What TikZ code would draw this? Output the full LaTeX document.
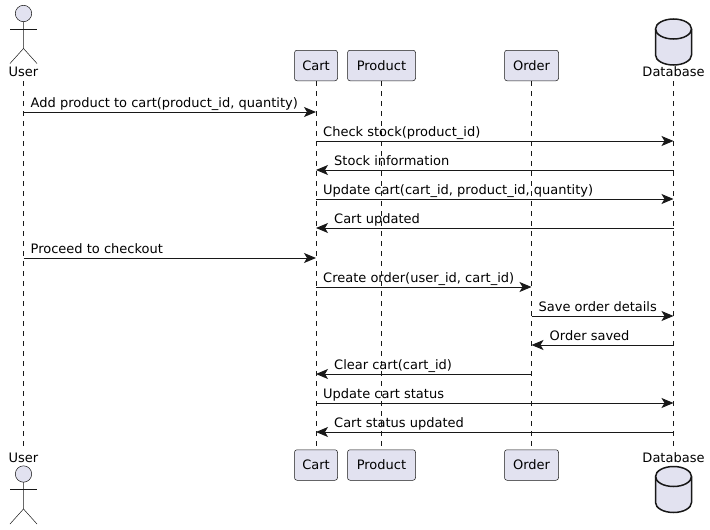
\documentclass[tikz,border=0pt]{standalone}
\usepackage{fontspec}
\setmainfont{DejaVu Sans}
\usetikzlibrary{arrows.meta}
\definecolor{partfill}{HTML}{E2E2F0}
\definecolor{partline}{HTML}{181818}
\tikzset{>={Stealth[length=12pt,width=10pt,inset=3pt]}}
\tikzset{
  part/.style = {draw=partline,fill=partfill,line width=0.5pt,rounded corners=2.5pt,
    minimum height=30.5pt,inner sep=0pt,font=\fontsize{13}{15}\selectfont},
  lbl/.style = {inner sep=0pt,minimum height=18pt,font=\fontsize{13}{15}\selectfont},
  msglbl/.style = {inner sep=0pt,anchor=base west,font=\fontsize{13}{15}\selectfont},
  lifeline/.style = {draw=partline,line width=0.5pt,dash pattern=on 5pt off 5pt},
  msg/.style = {draw=partline,line width=1pt,->},
  actorpic/.pic = {
    \draw[partline,line width=0.5pt,fill=partfill] (0,0) circle[radius=8.2pt];
    \draw[partline,line width=0.5pt] (0,8.2) -- ++(0,26.8) -- ++(-13.5,15);
    \draw[partline,line width=0.5pt] (0,35) -- ++(13.5,15);
    \draw[partline,line width=0.5pt] (-13.5,15.5) -- ++(27,0);
  },
  dbpic/.pic = {
    \draw[partline,line width=1.5pt,fill=partfill] (-18,0) .. controls (-18,-5.5) and (-10,-10) .. (0,-10)
      .. controls (10,-10) and (18,-5.5) .. (18,0) -- ++(0,26)
      .. controls (18,31.5) and (10,36) .. (0,36) .. controls (-10,36) and (-18,31.5) .. (-18,26) -- cycle;
    \draw[partline,line width=1.5pt] (-18,0) .. controls (-18,5.5) and (-10,10) .. (0,10)
      .. controls (10,10) and (18,5.5) .. (18,0);
  }
}

\begin{document}
\begin{tikzpicture}[x=1pt,y=-1pt]
  \useasboundingbox (0,0) rectangle (710,530);
  %
  \node[lbl] (usertop) at (23.5,72) {User};
  \node[part,minimum width=43pt] (carttop) at (316,65.5) {Cart};
  \node[part,minimum width=68pt] (producttop) at (381.5,65.5) {Product};
  \node[part,minimum width=54pt] (ordertop) at (531.5,65.5) {Order};
  \node[lbl] (dbtop) at (673.5,72) {Database};
  %
  \node[lbl] (userbot) at (23.5,458) {User};
  \node[part,minimum width=43pt] (cartbot) at (316,465) {Cart};
  \node[part,minimum width=68pt] (productbot) at (381.5,465) {Product};
  \node[part,minimum width=54pt] (orderbot) at (531.5,465) {Order};
  \node[lbl] (dbbot) at (673.5,458) {Database};
  %
  \foreach \who in {user,cart,product,order,db}
    \draw[lifeline] (\who top) -- (\who bot);
  %
  \pic at (23.5,13.5) {actorpic};
  \pic at (23.5,474) {actorpic};
  \pic at (673.5,29) {dbpic};
  \pic at (673.5,476.5) {dbpic};
  %
  \foreach \src/\dst/\ypos/\gap/\txt in {
    usertop/carttop/112/7/{Add product to cart(product\_id, quantity)},
    carttop/dbtop/141/7/{Check stock(product\_id)},
    dbtop/carttop/170/18/{Stock information},
    carttop/dbtop/199/7/{Update cart(cart\_id, product\_id, quantity)},
    dbtop/carttop/228/18/{Cart updated},
    usertop/carttop/258/7/{Proceed to checkout},
    carttop/ordertop/287/7/{Create order(user\_id, cart\_id)},
    ordertop/dbtop/316/7/{Save order details},
    dbtop/ordertop/345/18/{Order saved},
    ordertop/carttop/374/18/{Clear cart(cart\_id)},
    carttop/dbtop/403/7/{Update cart status},
    dbtop/carttop/432/18/{Cart status updated}} {
    \draw[msg] (\src |- 0,\ypos) -- (\dst |- 0,\ypos);
    \ifnum\gap=7
      \node[msglbl] at ([xshift=7pt,yshift=5pt]\src |- 0,\ypos) {\txt};
    \else
      \node[msglbl] at ([xshift=18pt,yshift=5pt]\dst |- 0,\ypos) {\txt};
    \fi
  }
\end{tikzpicture}
\end{document}
